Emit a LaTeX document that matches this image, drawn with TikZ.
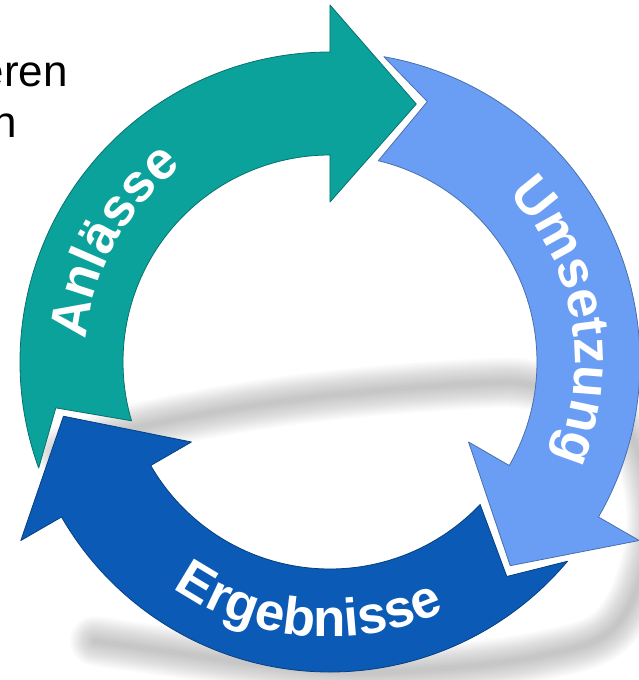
\documentclass[tikz,border=0pt]{standalone}
\usepackage{fontspec}
\setmainfont{Liberation Sans}
\usepackage{tikz}
\usetikzlibrary{decorations.text}

\definecolor{anlass}{RGB}{12,162,156}
\definecolor{umsetz}{RGB}{106,158,245}
\definecolor{ergebnis}{RGB}{10,90,182}

\newcommand{\ringfont}{\fontsize{53}{60}\selectfont\bfseries}

\tikzset{
    ringarrow/.style={fill=#1, draw=#1!70!black, line width=0.8pt, line join=round},
    ringtext/.style={decorate, decoration={text along path, text align=center, text color=white, text={#1}}},
    slidetext/.style={anchor=base east, inner sep=0pt, font=\fontsize{44}{50}\selectfont},
}

\begin{document}
\begin{tikzpicture}[x=1pt, y=1pt]
    \useasboundingbox (-330,-318) rectangle (309,362);

    % soft shadow under the ring, stacked strokes for the blur
    \foreach \w in {50,47,...,5} {
        \draw[black, opacity=0.014, line width=\w, line cap=round] plot[smooth, tension=0.6] coordinates {
            (-235,-279) (-180,-287) (-80,-301) (20,-310) (120,-306) (210,-294)
            (278,-271) (312,-213) (320,-138) (290,-58) (210,-25) (140,-22)
            (-30,-37) (-180,-63) (-270,-90)};
    }

    % cut-off slide text
    \node[slidetext] (eren) at (-262,275) {eren};
    \node[slidetext] (nline) at (-313,224) {n};

    % three arrows: outer radius 310, inner radius 207
    \draw[ringarrow=anlass] (200:310) arc[start angle=200, end angle=90, radius=310]
        -- (90:357) -- (71.5:272) -- (90:160) -- (90:207)
        arc[start angle=90, end angle=196.5, radius=207] -- (189.5:278) -- cycle;
    \draw[ringarrow=umsetz] (80:310) arc[start angle=80, end angle=-30, radius=310]
        -- (-30:357) -- (-48.5:272) -- (-30:160) -- (-30:207)
        arc[start angle=-30, end angle=76.5, radius=207] -- (69.5:278) -- cycle;
    \draw[ringarrow=ergebnis] (-40:310) arc[start angle=-40, end angle=-150, radius=310]
        -- (-150:357) -- (-168.5:272) -- (-150:160) -- (-150:207)
        arc[start angle=-150, end angle=-43.5, radius=207] -- (-50.5:278) -- cycle;

    % labels along the ring
    \path[ringtext={|\ringfont|Anlässe}] (201:245) arc[start angle=201, end angle=101, radius=245];
    \path[ringtext={|\ringfont|Umsetzung}] (60:245) arc[start angle=60, end angle=-40, radius=245];
    \path[ringtext={|\ringfont|Ergebnisse}] (-145:275) arc[start angle=-145, end angle=-45, radius=275];
\end{tikzpicture}
\end{document}
